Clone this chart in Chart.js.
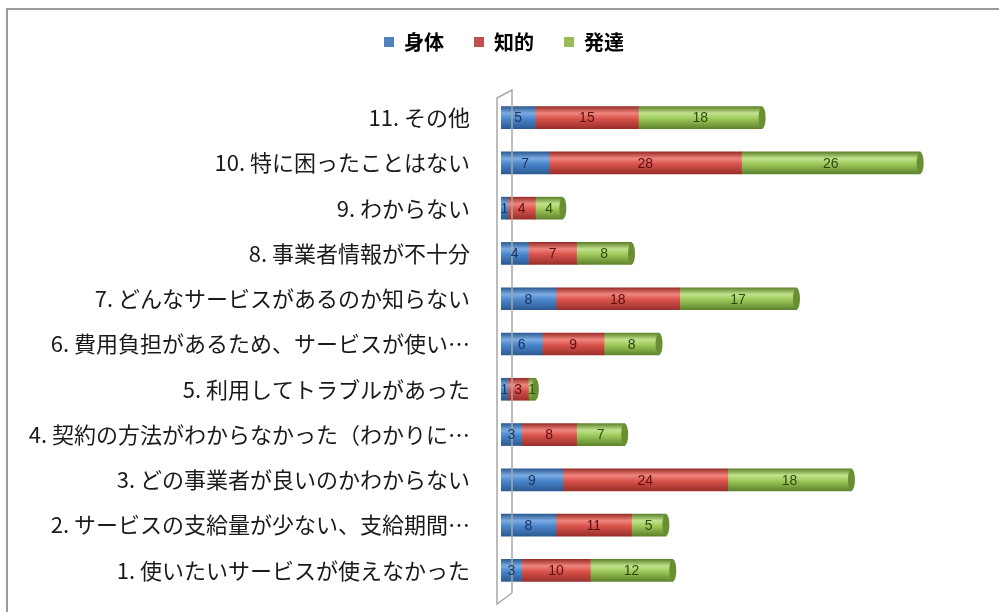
<!DOCTYPE html>
<html>
<head>
<meta charset="utf-8">
<script src="https://cdn.jsdelivr.net/npm/chart.js@4"></script>
<style>
  html, body { margin: 0; padding: 0; background: #fff; }
  #wrap { width: 999px; height: 612px; position: relative; }
</style>
</head>
<body>
<div id="wrap"><canvas id="chart" width="999" height="612"></canvas></div>
<script>
// categories, top to bottom as drawn
const categories = [
  "11. その他",
  "10. 特に困ったことはない",
  "9. わからない",
  "8. 事業者情報が不十分",
  "7. どんなサービスがあるのか知らない",
  "6. 費用負担があるため、サービスが使い…",
  "5. 利用してトラブルがあった",
  "4. 契約の方法がわからなかった（わかりに…",
  "3. どの事業者が良いのかわからない",
  "2. サービスの支給量が少ない、支給期間…",
  "1. 使いたいサービスが使えなかった"
];
const seriesNames = ["身体", "知的", "発達"];
const shintai = [5, 7, 1, 4, 8, 6, 1, 3, 9, 8, 3];
const chiteki = [15, 28, 4, 7, 18, 9, 3, 8, 24, 11, 10];
const hattatsu = [18, 26, 4, 8, 17, 8, 1, 7, 18, 5, 12];

// flat colours for legend, shades for the cylinder look
const flat = ["#4f81bd", "#c0504d", "#9bbb59"];
const shades = [
  { dark: "#2c5a92", light: "#7cace2", mid: "#4a86cc", text: "#1c3560" },
  { dark: "#9a2f2a", light: "#f0857c", mid: "#d9534c", text: "#5a1010" },
  { dark: "#5f832c", light: "#c2e28e", mid: "#9cc95a", text: "#2f4a10" }
];

function cylinder(i) {
  return (ctx) => {
    const chart = ctx.chart;
    const y = chart.scales && chart.scales.y;
    if (!y || ctx.dataIndex === undefined || !chart.chartArea) return shades[i].mid;
    const cy = y.getPixelForValue(ctx.dataIndex);
    const g = chart.ctx.createLinearGradient(0, cy - 11, 0, cy + 11);
    g.addColorStop(0, shades[i].dark);
    g.addColorStop(0.3, shades[i].light);
    g.addColorStop(0.55, shades[i].mid);
    g.addColorStop(1, shades[i].dark);
    return g;
  };
}

// grey frame round the chart (top and left edges visible)
const framePlugin = {
  id: "frame",
  beforeDraw(chart) {
    const c = chart.ctx;
    c.save();
    c.strokeStyle = "#9a9a9a";
    c.lineWidth = 2;
    c.beginPath();
    c.moveTo(999, 9);
    c.lineTo(7, 9);
    c.lineTo(7, 612);
    c.stroke();
    c.restore();
  }
};

// value labels, end caps and the thin 3D wall
const barExtras = {
  id: "barExtras",
  afterDatasetsDraw(chart) {
    const c = chart.ctx;
    c.save();
    // end cap on the last segment
    const last = chart.getDatasetMeta(2);
    last.data.forEach((el) => {
      c.fillStyle = "#6a8f33";
      c.beginPath();
      c.ellipse(el.x, el.y, 3.5, 11, 0, 0, Math.PI * 2);
      c.fill();
    });
    // wall
    c.strokeStyle = "#a8a8a8";
    c.lineWidth = 1.5;
    c.beginPath();
    c.moveTo(512, 593);
    c.lineTo(512, 90);
    c.lineTo(497, 98);
    c.lineTo(497, 604);
    c.lineTo(512, 593);
    c.stroke();
    // numbers
    c.font = "14px 'Liberation Sans', sans-serif";
    c.textAlign = "center";
    c.textBaseline = "middle";
    chart.data.datasets.forEach((ds, i) => {
      chart.getDatasetMeta(i).data.forEach((el, j) => {
        c.fillStyle = shades[i].text;
        c.fillText(String(ds.data[j]), (el.x + el.base) / 2, el.y + 1);
      });
    });
    c.restore();
  }
};

// extra room under the legend, and nudge it a little right
const legendSpace = {
  id: "legendSpace",
  beforeInit(chart) {
    const fit = chart.legend.fit;
    chart.legend.fit = function () {
      fit.bind(chart.legend)();
      this.height = 93;
    };
  },
  afterLayout(chart) {
    chart.legend.left += 26;
  }
};

new Chart(document.getElementById("chart"), {
  type: "bar",
  data: {
    labels: categories,
    datasets: [
      { label: seriesNames[0], data: shintai, backgroundColor: cylinder(0) },
      { label: seriesNames[1], data: chiteki, backgroundColor: cylinder(1) },
      { label: seriesNames[2], data: hattatsu, backgroundColor: cylinder(2) }
    ]
  },
  options: {
    indexAxis: "y",
    responsive: false,
    animation: false,
    layout: { padding: { top: 2, right: 17, bottom: 19, left: 0 } },
    datasets: { bar: { barThickness: 22, borderWidth: 0 } },
    scales: {
      x: { stacked: true, min: 0, max: 70, display: false },
      y: {
        stacked: true,
        grid: { display: false, drawTicks: false },
        border: { display: false },
        afterFit: (s) => {
          s.width = 501;
          s.paddingTop = 0;
          s.paddingBottom = 0;
        },
        ticks: {
          padding: 31,
          color: "#1a1a1a",
          font: { family: "'Noto Sans CJK JP', sans-serif", size: 22 }
        }
      }
    },
    plugins: {
      legend: {
        display: true,
        position: "top",
        labels: {
          boxWidth: 10,
          boxHeight: 10,
          padding: 30,
          color: "#111",
          font: { family: "'Noto Sans CJK JP', sans-serif", size: 20, weight: "bold" },
          generateLabels: (chart) => chart.data.datasets.map((ds, i) => ({
            text: ds.label,
            fillStyle: flat[i],
            strokeStyle: flat[i],
            lineWidth: 0,
            datasetIndex: i,
            hidden: false
          }))
        }
      },
      tooltip: { enabled: false }
    }
  },
  plugins: [framePlugin, barExtras, legendSpace]
});
</script>
</body>
</html>
